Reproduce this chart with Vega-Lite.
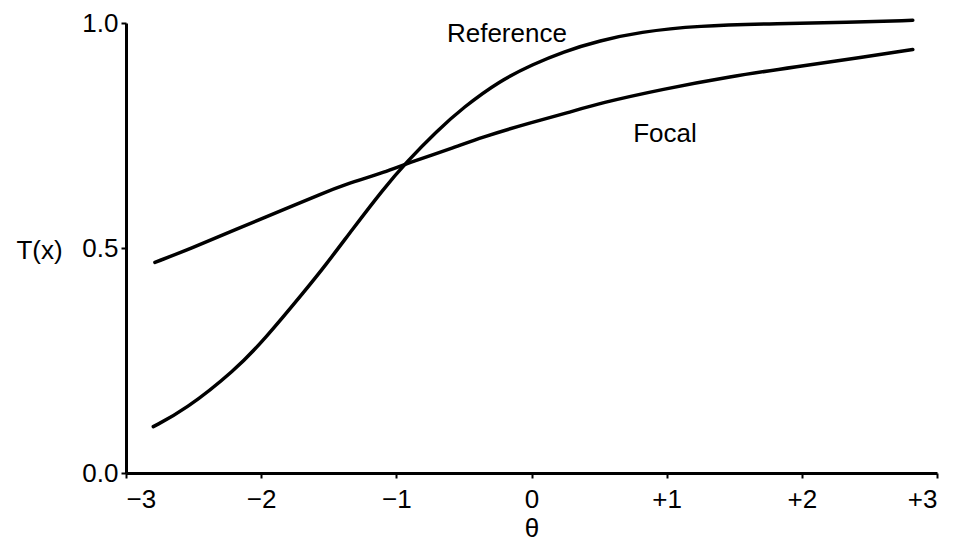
{
  "$schema": "https://vega.github.io/schema/vega-lite/v6.json",
  "width": 811,
  "height": 450,
  "autosize": {"type": "none"},
  "padding": {"left": 126, "top": 23, "right": 20, "bottom": 70},
  "background": "white",
  "config": {
    "view": {"stroke": null},
    "font": "Liberation Sans",
    "axis": {
      "grid": false,
      "domainColor": "black",
      "domainWidth": 3,
      "tickColor": "black",
      "tickWidth": 2,
      "tickSize": 5,
      "labelFont": "Liberation Sans",
      "labelFontSize": 26,
      "labelColor": "black",
      "titleFont": "Liberation Sans",
      "titleFontSize": 26,
      "titleFontWeight": "normal",
      "titleColor": "black"
    }
  },
  "datasets": {
    "curves": [
      {"series": "Reference", "theta": -2.798, "T": 0.103},
      {"series": "Reference", "theta": -2.564, "T": 0.140},
      {"series": "Reference", "theta": -2.194, "T": 0.228},
      {"series": "Reference", "theta": -1.972, "T": 0.298},
      {"series": "Reference", "theta": -1.676, "T": 0.405},
      {"series": "Reference", "theta": -1.528, "T": 0.460},
      {"series": "Reference", "theta": -1.328, "T": 0.540},
      {"series": "Reference", "theta": -1.099, "T": 0.630},
      {"series": "Reference", "theta": -0.922, "T": 0.692},
      {"series": "Reference", "theta": -0.700, "T": 0.760},
      {"series": "Reference", "theta": -0.507, "T": 0.812},
      {"series": "Reference", "theta": -0.234, "T": 0.872},
      {"series": "Reference", "theta": 0.010, "T": 0.908},
      {"series": "Reference", "theta": 0.232, "T": 0.936},
      {"series": "Reference", "theta": 0.506, "T": 0.961},
      {"series": "Reference", "theta": 0.800, "T": 0.980},
      {"series": "Reference", "theta": 1.223, "T": 0.994},
      {"series": "Reference", "theta": 1.837, "T": 0.999},
      {"series": "Reference", "theta": 2.333, "T": 1.001},
      {"series": "Reference", "theta": 2.821, "T": 1.006},
      {"series": "Focal", "theta": -2.786, "T": 0.468},
      {"series": "Focal", "theta": -2.512, "T": 0.500},
      {"series": "Focal", "theta": -2.216, "T": 0.538},
      {"series": "Focal", "theta": -1.713, "T": 0.600},
      {"series": "Focal", "theta": -1.565, "T": 0.619},
      {"series": "Focal", "theta": -1.395, "T": 0.640},
      {"series": "Focal", "theta": -1.070, "T": 0.670},
      {"series": "Focal", "theta": -0.922, "T": 0.688},
      {"series": "Focal", "theta": -0.581, "T": 0.722},
      {"series": "Focal", "theta": -0.382, "T": 0.745},
      {"series": "Focal", "theta": 0.010, "T": 0.780},
      {"series": "Focal", "theta": 0.262, "T": 0.800},
      {"series": "Focal", "theta": 0.506, "T": 0.822},
      {"series": "Focal", "theta": 0.972, "T": 0.853},
      {"series": "Focal", "theta": 1.467, "T": 0.881},
      {"series": "Focal", "theta": 1.963, "T": 0.903},
      {"series": "Focal", "theta": 2.451, "T": 0.924},
      {"series": "Focal", "theta": 2.821, "T": 0.941}
    ],
    "labels": [
      {"label": "Reference", "theta": -0.182, "T": 0.976},
      {"label": "Focal", "theta": 0.987, "T": 0.753}
    ]
  },
  "layer": [
    {
      "data": {"name": "curves"},
      "mark": {"type": "line", "interpolate": "basis", "strokeWidth": 3.5, "strokeCap": "round"},
      "encoding": {
        "x": {
          "field": "theta",
          "type": "quantitative",
          "scale": {"domain": [-3, 3], "nice": false, "zero": false},
          "axis": {
            "values": [-3, -2, -1, 0, 1, 2, 3],
            "labelExpr": "datum.value > 0 ? '+' + datum.value : (datum.value < 0 ? '\u2212' + abs(datum.value) : '0')",
            "labelPadding": 8,
            "title": "\u03b8",
            "titleBaseline": "middle",
            "titleY": 55
          }
        },
        "y": {
          "field": "T",
          "type": "quantitative",
          "scale": {"domain": [0, 1], "nice": false},
          "axis": {
            "values": [0, 0.5, 1],
            "format": ".1f",
            "labelPadding": 3,
            "title": "T(x)",
            "titleAngle": 0,
            "titleAlign": "center",
            "titleBaseline": "middle",
            "titleX": -87,
            "titleY": 227
          }
        },
        "detail": {"field": "series"},
        "color": {"value": "black"}
      }
    },
    {
      "data": {"name": "labels"},
      "mark": {"type": "text", "font": "Liberation Sans", "fontSize": 26, "color": "black", "align": "center", "baseline": "middle"},
      "encoding": {
        "x": {"field": "theta", "type": "quantitative"},
        "y": {"field": "T", "type": "quantitative"},
        "text": {"field": "label"}
      }
    }
  ]
}
